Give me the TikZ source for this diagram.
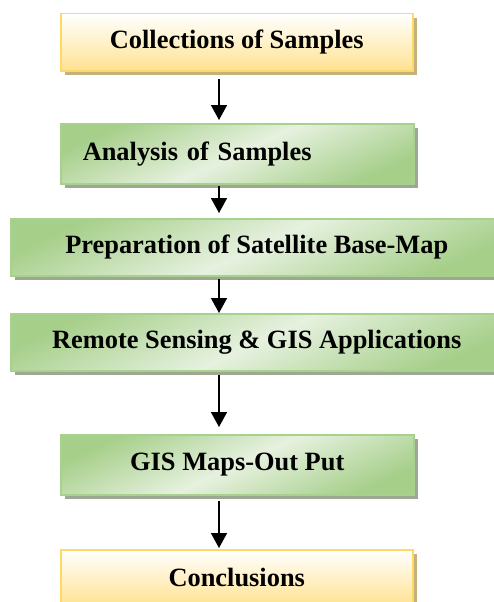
\documentclass[tikz,border=0pt]{standalone}
\usepackage{fontspec}
\setmainfont{Liberation Serif}
\usetikzlibrary{arrows.meta,shadows}
\definecolor{ybord}{HTML}{FFD966}
\definecolor{yfill}{HTML}{FFE291}
\definecolor{ysh}{HTML}{C4B27C}
\definecolor{gbord}{HTML}{A9D18E}
\definecolor{gdark}{HTML}{A6CF8A}
\definecolor{glight}{HTML}{E6F1DF}
\definecolor{gsh}{HTML}{9CA891}
\tikzset{
  boxbase/.style={anchor=north west, inner sep=0pt, line width=1.5pt,
    font=\fontsize{26.4}{30}\selectfont\bfseries},
  ybox/.style={boxbase, draw=ybord, top color=white, bottom color=yfill,
    drop shadow={shadow xshift=4pt, shadow yshift=-4pt, fill=ysh, opacity=1}},
  gbox/.style={boxbase, draw=gbord, top color=gdark, bottom color=gdark,
    middle color=glight, shading angle=25,
    drop shadow={shadow xshift=4pt, shadow yshift=-4pt, fill=gsh, opacity=1}},
  arr/.style={line width=1.6pt, -{Triangle[length=15pt,width=16pt]}}
}
\begin{document}
\begin{tikzpicture}[x=1pt,y=-1pt]
\useasboundingbox (0,0) rectangle (494,602);
\clip (0,0) rectangle (494,602);
\coordinate (ax) at (219,0);
\node[ybox, minimum width=352pt, minimum height=57pt] (b1) at (60,13) {Collections of Samples};
\node[gbox, minimum height=60pt, text width=309pt, inner xsep=22pt, align=left] (b2) at (60,123) {Analysis of Samples};
\node[gbox, minimum width=492pt, minimum height=57pt] (b3) at (10,218) {Preparation of Satellite Base-Map};
\node[gbox, minimum width=492pt, minimum height=57pt] (b4) at (10,313) {Remote Sensing \& GIS Applications};
\node[gbox, minimum width=353pt, minimum height=60pt] (b5) at (60,434) {GIS Maps-Out Put};
\node[ybox, minimum width=352pt, minimum height=56pt] (b6) at (60,549) {Conclusions};
\draw[arr, shorten <=7pt, shorten >=3pt] (b1.south -| ax) -- (b2.north -| ax);
\draw[arr, shorten <=1pt, shorten >=5pt] (b2.south -| ax) -- (b3.north -| ax);
\draw[arr, shorten <=2pt, shorten >=0pt] (b3.south -| ax) -- (b4.north -| ax);
\draw[arr, shorten <=3pt, shorten >=7pt] (b4.south -| ax) -- (b5.north -| ax);
\draw[arr, shorten <=5pt, shorten >=1pt] (b5.south -| ax) -- (b6.north -| ax);
\end{tikzpicture}
\end{document}
